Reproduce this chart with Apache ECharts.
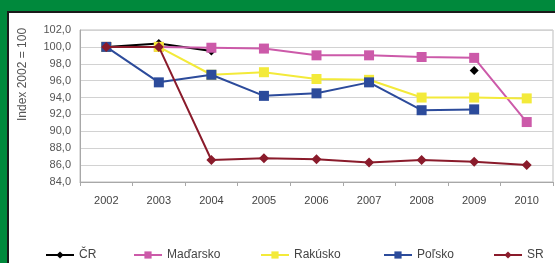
<!DOCTYPE html>
<html><head><meta charset="utf-8">
<script src="https://cdn.jsdelivr.net/npm/echarts@6/dist/echarts.min.js"></script>
<style>
html,body{margin:0;padding:0;width:555px;height:263px;overflow:hidden;background:#00893c;}
#panel{position:absolute;left:7px;top:11px;width:548px;height:252px;background:#fff;border-top:2px solid #1a1a1a;border-left:2px solid #1a1a1a;box-sizing:border-box;}
#chart{position:absolute;left:0;top:0;width:555px;height:263px;}
</style></head>
<body>
<div id="panel"></div>
<div id="chart"></div>
<script>
const years = ['2002','2003','2004','2005','2006','2007','2008','2009','2010'];
const seriesNames = ['ČR','Maďarsko','Rakúsko','Poľsko','SR'];
const cr       = [100.0, 100.4, 99.5, null, null, null, null, 97.2, null];
const madarsko = [100.0, 100.0, 99.9, 99.8, 99.0, 99.0, 98.8, 98.7, 91.1];
const rakusko  = [100.0, 100.0, 96.7, 97.0, 96.2, 96.1, 94.0, 94.0, 93.9];
const polsko   = [100.0, 95.8, 96.7, 94.2, 94.5, 95.8, 92.5, 92.6, null];
const sr       = [100.0, 100.0, 86.6, 86.8, 86.7, 86.3, 86.6, 86.4, 86.0];
const yTicks = [84,86,88,90,92,94,96,98,100,102];

const colors = ['#000000','#cc5aa9','#f3ea3a','#2c4b9b','#8a1b2b'];
const symbols = ['diamond','rect','rect','rect','diamond'];
const symSizes = [9,10,10,10,10];
const datasets = [cr, madarsko, rakusko, polsko, sr];
const legendLeft = [40,128,255,378,488];

const chart = echarts.init(document.getElementById('chart'));
const font = 'Liberation Sans, Arial, sans-serif';
chart.setOption({
  animation:false,
  backgroundColor:'transparent',
  textStyle:{fontFamily:font},
  grid:{left:80, top:30, right:2, bottom:81, show:true, borderColor:'#bdbdbd', borderWidth:1},
  legend: seriesNames.map((n,i)=>({
    data:[n], left:legendLeft[i], top:244, itemWidth:28, itemHeight:9, itemGap:4,
    textStyle:{fontSize:12, color:'#444', fontFamily:font}
  })),
  graphic:[{type:'text', rotation:Math.PI/2, x:23, y:121,
    style:{text:'Index 2002 = 100', fontSize:12, fill:'#555', fontFamily:font,
      textAlign:'left', textVerticalAlign:'middle'}}],
  xAxis:{type:'category', data:years, boundaryGap:true,
    axisLine:{lineStyle:{color:'#a8a8a8'}},
    axisTick:{show:true, length:4, lineStyle:{color:'#a8a8a8'}},
    axisLabel:{fontSize:11, color:'#444', margin:13}},
  yAxis:{type:'value', min:yTicks[0], max:yTicks[yTicks.length-1], interval:2,
    axisLine:{show:true, lineStyle:{color:'#a8a8a8'}},
    axisTick:{show:false},
    splitLine:{lineStyle:{color:'#d2d2d2'}},
    axisLabel:{fontSize:11, color:'#555', margin:9, formatter:v=>v.toFixed(1).replace('.',',')}},
  series: seriesNames.map((n,i)=>({
    name:n, type:'line', data:datasets[i], connectNulls:false,
    symbol:symbols[i], symbolSize:symSizes[i], showAllSymbol:true,
    lineStyle:{color:colors[i], width:2},
    itemStyle:{color:colors[i]},
    z:2+i
  }))
});
</script>
</body></html>
